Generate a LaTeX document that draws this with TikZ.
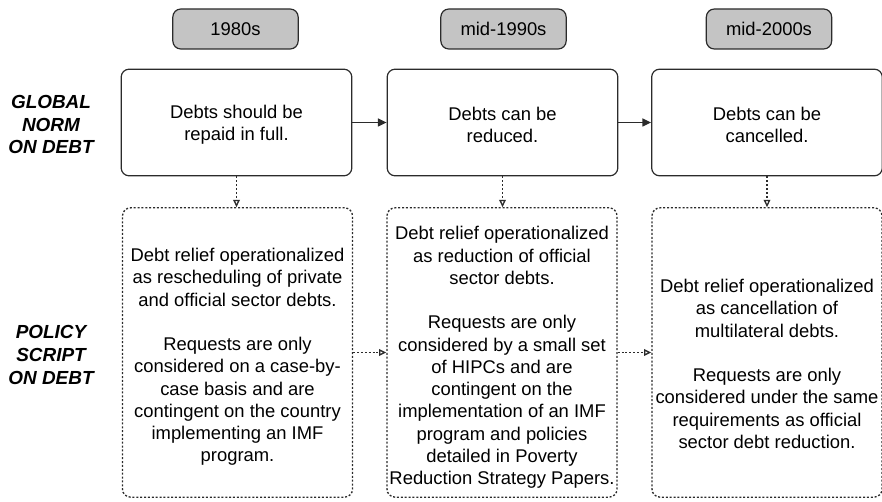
\documentclass[tikz,border=0pt]{standalone}
\usepackage{fontspec}
\setmainfont{Liberation Sans}
\usetikzlibrary{arrows.meta}
\definecolor{edge}{HTML}{2B2B2B}
\definecolor{eraFill}{HTML}{C4C4C4}
\tikzset{
  body/.style={font=\fontsize{13.8}{16.7}\selectfont, text=black},
  era/.style={draw=edge, fill=eraFill, line width=0.9pt, rounded corners=6pt,
    minimum width=94pt, minimum height=30pt, inner sep=0pt, body},
  normbox/.style={draw=edge, line width=0.9pt, rounded corners=6pt,
    minimum width=173pt, minimum height=80pt, inner sep=0pt},
  scriptbox/.style={draw=edge, line width=1pt, rounded corners=6pt,
    dash pattern=on 1.5pt off 1.4pt,
    minimum width=172.5pt, minimum height=217pt, inner sep=0pt},
  rowlabel/.style={align=center, font=\fontsize{14.2}{16.9}\selectfont\bfseries\itshape},
  txt/.style={align=center, body, inner sep=0pt},
  normshift/.style={draw=edge, line width=0.9pt, -{Triangle[length=6.5pt,width=6pt]}},
  follows/.style={draw=edge, line width=1pt, dash pattern=on 1.5pt off 1.4pt,
    -{Triangle[open,length=5.5pt,width=5pt]}}
}
\begin{document}
\begin{tikzpicture}[x=0.75pt,y=-0.75pt]
\useasboundingbox (0,0) rectangle (882,502);

% period headers
\node[era] (e1) at (235.5,29) {1980s};
\node[era] (e2) at (503.5,29) {mid-1990s};
\node[era] (e3) at (769,29) {mid-2000s};

% row labels
\node[rowlabel] (lnorm) at (51,124.5) {GLOBAL\\NORM\\ON DEBT};
\node[rowlabel] (lscript) at (51,355) {POLICY\\SCRIPT\\ON DEBT};

% global norm boxes
\node[normbox] (n1) at (236.5,122.5) {};
\node[normbox] (n2) at (502.5,122.5) {};
\node[normbox] (n3) at (767,122.5) {};
\node[txt] (tn1) at (236.5,125) {Debts should be\\repaid in full.};
\node[txt] (tn2) at (502.5,125) {Debts can be\\reduced.};
\node[txt] (tn3) at (767,125) {Debts can be\\cancelled.};

% policy script boxes
\node[scriptbox] (s1) at (237.5,352.5) {};
\node[scriptbox] (s2) at (502,352.5) {};
\node[scriptbox] (s3) at (767,352.5) {};
\node[txt] (ts1) at (237.5,357) {Debt relief operationalized\\as rescheduling of private\\and official sector debts.\\[16.7pt]
  Requests are only\\considered on a case-by-\\case basis and are\\contingent on the country\\implementing an IMF\\program.};
\node[txt] (ts2) at (502,357.5) {Debt relief operationalized\\as reduction of official\\sector debts.\\[16.7pt]
  Requests are only\\considered by a small set\\of HIPCs and are\\contingent on the\\implementation of an IMF\\program and policies\\detailed in Poverty\\Reduction Strategy Papers.};
\node[txt] (ts3) at (767,364) {Debt relief operationalized\\as cancellation of\\multilateral debts.\\[16.7pt]
  Requests are only\\considered under the same\\requirements as official\\sector debt reduction.};

% norm shifts over time
\draw[normshift] (n1.east) -- (n2.west);
\draw[normshift] (n2.east) -- (n3.west);

% norms translated into scripts
\draw[follows] (n1.south) -- (s1.north -| n1.south);
\draw[follows] (n2.south) -- (s2.north -| n2.south);
\draw[follows] (n3.south) -- (s3.north -| n3.south);

% scripts succeeding one another
\draw[follows] (s1.east) -- (s2.west);
\draw[follows] (s2.east) -- (s3.west);
\end{tikzpicture}
\end{document}
